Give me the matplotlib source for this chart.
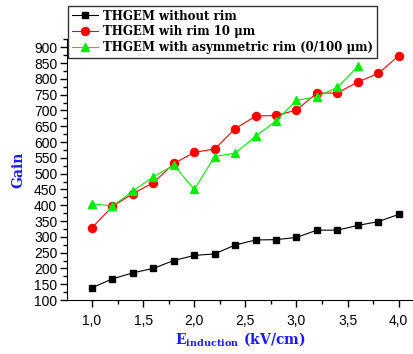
import matplotlib
matplotlib.use("Agg")
import matplotlib.pyplot as plt
from matplotlib.ticker import MultipleLocator, FuncFormatter

# Induction field (kV/cm)
field = [1.0, 1.2, 1.4, 1.6, 1.8, 2.0, 2.2, 2.4, 2.6, 2.8, 3.0, 3.2, 3.4, 3.6, 3.8, 4.0]
field_asym = [1.0, 1.2, 1.4, 1.6, 1.8, 2.0, 2.2, 2.4, 2.6, 2.8, 3.0, 3.2, 3.4, 3.6]

gain_no_rim = [139, 167, 186, 200, 225, 241, 246, 274, 290, 291, 298, 321, 321, 336, 348, 371]
gain_rim10 = [329, 396, 437, 471, 532, 567, 578, 642, 682, 684, 701, 755, 755, 790, 817, 873]
gain_asym = [405, 397, 445, 490, 527, 450, 554, 565, 618, 667, 732, 743, 773, 839]

labels = ["THGEM without rim",
          "THGEM wih rim 10 \u03bcm",
          "THGEM with asymmetric rim (0/100 \u03bcm)"]

plt.rcParams["mathtext.fontset"] = "dejavuserif"

fig = plt.figure(figsize=(4.13, 3.54), dpi=100)
ax = fig.add_axes([67 / 413, 54 / 354, 1 - 67 / 413, (300 - 39) / 354])

ax.plot(field, gain_no_rim, color="black", lw=0.8, marker="s", ms=4.8, label=labels[0])
ax.plot(field, gain_rim10, color="#ff0000", lw=0.8, marker="o", ms=5.8, label=labels[1])
ax.plot(field_asym, gain_asym, color="#00ee00", lw=0.8, marker="^", ms=6.2, label=labels[2])

ax.set_xlim(0.755, 4.14)
ax.set_ylim(100, 926)

ax.spines["top"].set_visible(False)
ax.spines["right"].set_visible(False)

ax.xaxis.set_major_locator(MultipleLocator(0.5))
ax.xaxis.set_minor_locator(MultipleLocator(0.25))
ax.yaxis.set_major_locator(MultipleLocator(50))
ax.yaxis.set_minor_locator(MultipleLocator(25))
ax.xaxis.set_major_formatter(FuncFormatter(lambda v, p: f"{v:.1f}".replace(".", ",")))
ax.tick_params(axis="both", which="major", length=5, width=1, direction="out",
               labelsize=10, pad=2)
ax.tick_params(axis="both", which="minor", length=3, width=1, direction="out")
for lab in ax.get_xticklabels() + ax.get_yticklabels():
    lab.set_family("Liberation Sans")
ax.tick_params(axis="x", pad=5)

ax.set_ylabel("Gain", color="#1a1aff", fontsize=10, fontweight="bold",
              family="DejaVu Serif", labelpad=6)
ax.set_xlabel(r"E$_{\mathbf{induction}}$ (kV/cm)", color="#1a1aff", fontsize=10,
              fontweight="bold", family="DejaVu Serif", labelpad=2)

leg = fig.legend(loc="upper left", bbox_to_anchor=(68 / 413, 1 - 6 / 354),
                 frameon=True, fancybox=False, edgecolor="black",
                 prop={"family": "DejaVu Serif", "weight": "bold", "size": 8.5},
                 handlelength=2.2, handletextpad=0.5, borderpad=0.3,
                 labelspacing=0.25, borderaxespad=0)
leg.get_frame().set_linewidth(1.0)

fig.savefig("out.png", dpi=100)
